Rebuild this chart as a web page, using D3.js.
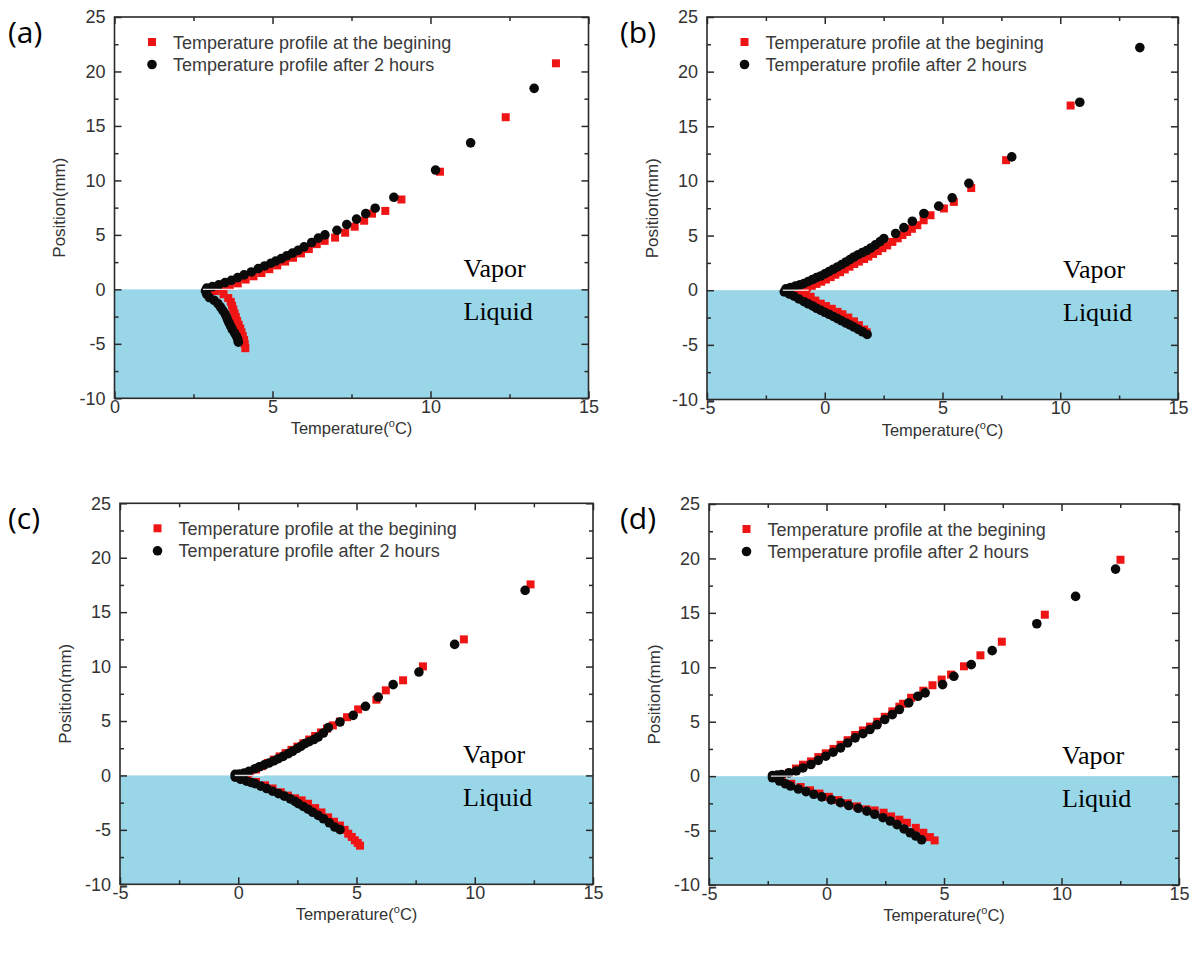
<!DOCTYPE html>
<html>
<head>
<meta charset="utf-8">
<script src="https://cdn.jsdelivr.net/npm/d3@7"></script>
<style>
  body { margin: 0; background: #fff; }
  svg { display: block; }
</style>
</head>
<body>
<svg></svg>
<script>
/* chart values */
var panelLabels = ['(a)', '(b)', '(c)', '(d)'];
var legendLabels = ['Temperature profile at the begining', 'Temperature profile after 2 hours'];
var phaseLabels = ['Vapor', 'Liquid'];
var yTitle = 'Position(mm)';
var xTitleParts = ['Temperature(', 'o', 'C)'];

var xDomains = [[0, 15], [-5, 15], [-5, 15], [-5, 15]];
var yDomain = [-10, 25];
var liquidRange = [-10, 0];
var xTicksA = [0, 5, 10, 15];
var xMinorA = [2.5, 7.5, 12.5];
var xTicks = [-5, 0, 5, 10, 15];
var xMinor = [-2.5, 2.5, 7.5, 12.5];
var yTicks = [-10, -5, 0, 5, 10, 15, 20, 25];
var yMinor = [-7.5, -2.5, 2.5, 7.5, 12.5, 17.5, 22.5];

// (a)
var beginA = [
  [3.15, 0.0], [3.4, 0.12], [3.65, 0.3], [3.9, 0.55], [4.15, 0.9], [4.4, 1.2], [4.65, 1.5],
  [4.9, 1.85], [5.15, 2.2], [5.4, 2.55], [5.65, 2.9], [5.9, 3.3], [6.15, 3.7], [6.4, 4.15],
  [6.65, 4.45], [6.98, 4.75], [7.3, 5.2], [7.6, 5.75], [7.9, 6.3], [8.15, 6.95], [8.57, 7.2],
  [9.08, 8.25], [10.3, 10.8], [12.38, 15.8], [13.97, 20.75],
  [3.2, -0.15], [3.45, -0.45], [3.6, -0.8], [3.68, -1.15], [3.72, -1.5], [3.76, -1.85], [3.8, -2.2],
  [3.84, -2.55], [3.88, -2.9], [3.93, -3.25], [3.98, -3.6], [4.02, -3.95], [4.06, -4.3], [4.1, -4.65],
  [4.12, -5.0], [4.14, -5.4]
];
var afterA = [
  [2.92, 0.12], [3.1, 0.25], [3.3, 0.42], [3.5, 0.62], [3.7, 0.83], [3.9, 1.08], [4.1, 1.33],
  [4.33, 1.6], [4.55, 1.9], [4.75, 2.15], [4.95, 2.4], [5.1, 2.6], [5.28, 2.82], [5.45, 3.08],
  [5.63, 3.33], [5.81, 3.58], [6.0, 3.9], [6.24, 4.3], [6.45, 4.7], [6.66, 5.0], [7.04, 5.42],
  [7.35, 5.95], [7.66, 6.45], [7.95, 6.95], [8.25, 7.45], [8.84, 8.45], [10.16, 10.95],
  [11.27, 13.45], [13.28, 18.45],
  [2.88, -0.15], [2.92, -0.45], [3.0, -0.75], [3.15, -1.0], [3.27, -1.3], [3.35, -1.6], [3.42, -1.9],
  [3.49, -2.2], [3.54, -2.5], [3.58, -2.8], [3.63, -3.1], [3.68, -3.4], [3.73, -3.7], [3.8, -4.0],
  [3.86, -4.3], [3.9, -4.6], [3.92, -4.85]
];
var seamA = [2.8, 3.9];

// (b)
var beginB = [
  [-1.35, 0.02], [-1.15, 0.08], [-0.95, 0.15], [-0.75, 0.25], [-0.55, 0.4], [-0.35, 0.58],
  [-0.15, 0.78], [0.05, 0.98], [0.25, 1.2], [0.45, 1.42], [0.65, 1.65], [0.85, 1.9], [1.05, 2.15],
  [1.25, 2.4], [1.45, 2.62], [1.67, 2.85], [1.85, 3.08], [2.05, 3.32], [2.25, 3.58], [2.45, 3.85],
  [2.65, 4.1], [2.87, 4.42], [3.1, 4.75], [3.3, 5.05], [3.5, 5.33], [3.7, 5.62], [3.93, 5.95],
  [4.2, 6.4], [4.49, 6.86], [5.06, 7.48], [5.48, 8.08], [6.22, 9.35], [7.7, 11.9], [10.44, 16.9],
  [-1.0, -0.2], [-0.8, -0.4], [-0.6, -0.6], [-0.4, -0.95], [-0.17, -1.23], [0.05, -1.45], [0.3, -1.7],
  [0.54, -1.98], [0.75, -2.2], [1.0, -2.5], [1.24, -2.85], [1.45, -3.2], [1.67, -3.6], [1.78, -3.85]
];
var afterB = [
  [-1.65, 0.12], [-1.45, 0.25], [-1.25, 0.38], [-1.05, 0.5], [-0.88, 0.62], [-0.7, 0.8],
  [-0.52, 0.98], [-0.35, 1.15], [-0.17, 1.3], [0.0, 1.5], [0.18, 1.7], [0.36, 1.92], [0.54, 2.13],
  [0.72, 2.35], [0.9, 2.58], [1.07, 2.8], [1.24, 3.04], [1.42, 3.25], [1.6, 3.45], [1.78, 3.63],
  [1.95, 3.85], [2.15, 4.15], [2.35, 4.45], [2.51, 4.73], [3.01, 5.19], [3.36, 5.73], [3.72, 6.31],
  [4.21, 7.02], [4.84, 7.69], [5.41, 8.45], [6.12, 9.78], [7.94, 12.2], [10.83, 17.2], [13.38, 22.2],
  [-1.72, -0.15], [-1.5, -0.35], [-1.3, -0.55], [-1.1, -0.8], [-0.88, -1.05], [-0.7, -1.25],
  [-0.5, -1.45], [-0.35, -1.65], [-0.17, -1.84], [0.0, -2.02], [0.18, -2.2], [0.36, -2.4],
  [0.54, -2.6], [0.72, -2.8], [0.9, -3.0], [1.07, -3.18], [1.24, -3.37], [1.42, -3.58],
  [1.6, -3.8], [1.8, -4.05]
];
var seamB = [-1.78, -0.68];

// (c)
var beginC = [
  [0.0, 0.02], [0.25, 0.1], [0.5, 0.3], [0.75, 0.55], [1.0, 0.85], [1.25, 1.15], [1.5, 1.45],
  [1.75, 1.75], [2.0, 2.05], [2.25, 2.35], [2.5, 2.65], [2.75, 2.95], [3.0, 3.3], [3.25, 3.62],
  [3.5, 3.95], [3.75, 4.3], [4.0, 4.6], [4.3, 4.95], [4.6, 5.35], [5.07, 6.07], [5.84, 6.96],
  [6.24, 7.82], [6.97, 8.74], [7.81, 10.02], [9.54, 12.5], [12.36, 17.55],
  [0.1, -0.2], [0.4, -0.4], [0.75, -0.6], [1.13, -0.91], [1.45, -1.2], [1.8, -1.55], [2.1, -1.85],
  [2.4, -2.1], [2.68, -2.29], [2.95, -2.6], [3.25, -3.0], [3.52, -3.4], [3.8, -3.85], [4.05, -4.25],
  [4.3, -4.6], [4.5, -5.0], [4.65, -5.35], [4.8, -5.65], [4.93, -5.96], [5.05, -6.2], [5.15, -6.45]
];
var afterC = [
  [-0.13, 0.1], [0.05, 0.12], [0.25, 0.22], [0.45, 0.38], [0.71, 0.62], [0.9, 0.8], [1.1, 0.98],
  [1.3, 1.14], [1.5, 1.33], [1.7, 1.54], [1.9, 1.75], [2.12, 2.0], [2.3, 2.22], [2.5, 2.48],
  [2.65, 2.68], [2.82, 2.92], [3.0, 3.1], [3.2, 3.3], [3.38, 3.53], [3.6, 3.9], [3.81, 4.39],
  [4.3, 4.91], [4.86, 5.52], [5.38, 6.35], [5.92, 7.2], [6.55, 8.34], [7.64, 9.5], [9.15, 12.04],
  [12.13, 17.0],
  [-0.13, -0.15], [0.1, -0.35], [0.35, -0.52], [0.55, -0.65], [0.71, -0.75], [0.95, -0.98],
  [1.2, -1.2], [1.45, -1.45], [1.7, -1.67], [1.95, -1.9], [2.2, -2.15], [2.4, -2.38], [2.54, -2.59],
  [2.75, -2.85], [2.95, -3.1], [3.15, -3.38], [3.38, -3.67], [3.6, -3.98], [3.85, -4.35],
  [4.08, -4.74], [4.3, -4.98]
];
var seamC = [-0.15, 1.1];

// (d)
var beginD = [
  [-1.9, 0.08], [-1.6, 0.3], [-1.3, 0.7], [-1.0, 1.05], [-0.66, 1.35], [-0.35, 1.75], [-0.03, 2.1],
  [0.3, 2.5], [0.6, 2.88], [0.9, 3.3], [1.22, 3.78], [1.55, 4.2], [1.85, 4.55], [2.16, 5.0],
  [2.48, 5.45], [2.8, 5.95], [3.1, 6.38], [3.26, 6.65], [3.6, 7.2], [4.12, 7.85], [4.51, 8.35],
  [4.9, 8.87], [5.3, 9.33], [5.85, 10.09], [6.55, 11.1], [7.46, 12.35], [9.29, 14.83], [12.51, 19.88],
  [-1.9, -0.3], [-1.5, -0.7], [-1.1, -1.0], [-0.7, -1.3], [-0.3, -1.6], [0.1, -1.9], [0.5, -2.2],
  [0.9, -2.5], [1.3, -2.78], [1.7, -3.05], [2.05, -3.15], [2.43, -3.36], [2.75, -3.7], [3.1, -4.0],
  [3.42, -4.28], [3.8, -4.75], [4.12, -5.2], [4.4, -5.6], [4.6, -5.9]
];
var afterD = [
  [-2.3, 0.06], [-2.1, 0.1], [-1.91, 0.15], [-1.6, 0.3], [-1.29, 0.46], [-1.0, 0.75], [-0.66, 1.07],
  [-0.35, 1.45], [-0.03, 1.83], [0.28, 2.2], [0.6, 2.6], [0.9, 3.05], [1.22, 3.52], [1.55, 3.9],
  [1.85, 4.28], [2.15, 4.72], [2.48, 5.2], [2.8, 5.65], [3.1, 6.12], [3.5, 6.73], [3.89, 7.34],
  [4.2, 7.65], [4.94, 8.41], [5.42, 9.17], [6.16, 10.24], [7.05, 11.53], [8.95, 14.0], [10.6, 16.51],
  [12.3, 19.02],
  [-2.3, -0.15], [-2.0, -0.45], [-1.75, -0.7], [-1.53, -0.91], [-1.2, -1.18], [-0.87, -1.42],
  [-0.54, -1.67], [-0.2, -1.9], [0.2, -2.18], [0.59, -2.44], [0.95, -2.7], [1.35, -2.95],
  [1.72, -3.21], [2.05, -3.5], [2.4, -3.82], [2.71, -4.12], [3.0, -4.45], [3.3, -4.85],
  [3.56, -5.2], [3.8, -5.5], [4.05, -5.85]
];
var seamD = [-2.37, -0.97];

/* layout */
var svgWidth = 1196;
var svgHeight = 953;
var redColor = '#f01515';
var liquidColor = '#99d6e8';
var textColor = '#333';
var sansFont = '"Liberation Sans", Arial, sans-serif';

var panels = [
  {label: panelLabels[0], xDomain: xDomains[0], xTicks: xTicksA, xMinor: xMinorA, begin: beginA, after: afterA, seam: seamA,
   box: {left: 114.5, top: 17, right: 588.5, bottom: 398.3}, labelX: 8, labelY: 43, phaseDx: 349},
  {label: panelLabels[1], xDomain: xDomains[1], xTicks: xTicks, xMinor: xMinor, begin: beginB, after: afterB, seam: seamB,
   box: {left: 707, top: 17, right: 1178, bottom: 399.5}, labelX: 620, labelY: 43, phaseDx: 356},
  {label: panelLabels[2], xDomain: xDomains[2], xTicks: xTicks, xMinor: xMinor, begin: beginC, after: afterC, seam: seamC,
   box: {left: 120, top: 503.3, right: 593, bottom: 884.3}, labelX: 8, labelY: 529, phaseDx: 343},
  {label: panelLabels[3], xDomain: xDomains[3], xTicks: xTicks, xMinor: xMinor, begin: beginD, after: afterD, seam: seamD,
   box: {left: 709, top: 504, right: 1179, bottom: 885}, labelX: 620, labelY: 529, phaseDx: 353}
];

var svg = d3.select('svg')
    .attr('width', svgWidth)
    .attr('height', svgHeight)
    .style('background', '#fff');

panels.forEach(drawPanel);

function drawPanel(p){
  var b = p.box;
  var x = d3.scaleLinear().domain(p.xDomain).range([b.left, b.right]);
  var y = d3.scaleLinear().domain(yDomain).range([b.bottom, b.top]);
  var g = svg.append('g');
  var plain = function(d){ return String(d); };  // hyphen minus, as in the figure

  // liquid region
  g.append('rect')
      .attr('x', b.left)
      .attr('y', y(liquidRange[1]))
      .attr('width', b.right - b.left)
      .attr('height', y(liquidRange[0]) - y(liquidRange[1]))
      .attr('fill', liquidColor);

  // beginning profile (red squares)
  g.selectAll('rect.begin')
      .data(p.begin)
      .enter()
      .append('rect')
      .attr('class', 'begin')
      .attr('x', function(d){ return x(d[0]) - 4; })
      .attr('y', function(d){ return y(d[1]) - 4; })
      .attr('width', 8)
      .attr('height', 8)
      .attr('fill', redColor);

  // after 2 hours (black circles)
  g.selectAll('circle.after')
      .data(p.after)
      .enter()
      .append('circle')
      .attr('class', 'after')
      .attr('cx', function(d){ return x(d[0]); })
      .attr('cy', function(d){ return y(d[1]); })
      .attr('r', 4.8)
      .attr('fill', '#0a0a0a');

  // thin light seam at the interface
  g.append('line')
      .attr('x1', x(p.seam[0])).attr('x2', x(p.seam[1]))
      .attr('y1', y(0)).attr('y2', y(0))
      .attr('stroke', '#fff')
      .attr('stroke-opacity', 0.85)
      .attr('stroke-width', 1.4);

  // axes: major + minor ticks on all four sides, pointing inward
  addAxis(g, d3.axisBottom(x).tickValues(p.xTicks).tickSize(-7).tickPadding(2).tickFormat(plain), translate(0, b.bottom), true);
  addAxis(g, d3.axisBottom(x).tickValues(p.xMinor).tickSize(-4).tickFormat(''), translate(0, b.bottom), false);
  addAxis(g, d3.axisTop(x).tickValues(p.xTicks).tickSize(-7).tickFormat(''), translate(0, b.top), false);
  addAxis(g, d3.axisTop(x).tickValues(p.xMinor).tickSize(-4).tickFormat(''), translate(0, b.top), false);
  addAxis(g, d3.axisLeft(y).tickValues(yTicks).tickSize(-7).tickPadding(9).tickFormat(plain), translate(b.left, 0), true);
  addAxis(g, d3.axisLeft(y).tickValues(yMinor).tickSize(-4).tickFormat(''), translate(b.left, 0), false);
  addAxis(g, d3.axisRight(y).tickValues(yTicks).tickSize(-7).tickFormat(''), translate(b.right, 0), false);
  addAxis(g, d3.axisRight(y).tickValues(yMinor).tickSize(-4).tickFormat(''), translate(b.right, 0), false);

  // frame
  g.append('rect')
      .attr('x', b.left).attr('y', b.top)
      .attr('width', b.right - b.left).attr('height', b.bottom - b.top)
      .attr('fill', 'none')
      .attr('stroke', '#2a2a2a')
      .attr('stroke-width', 1.6);

  // axis titles
  var xt = g.append('text')
      .attr('x', (b.left + b.right) / 2)
      .attr('y', b.bottom + 36)
      .attr('text-anchor', 'middle')
      .attr('font-family', sansFont)
      .attr('font-size', 16.5)
      .attr('fill', textColor);
  xt.append('tspan').text(xTitleParts[0]);
  xt.append('tspan').attr('dy', -7).attr('font-size', 11).text(xTitleParts[1]);
  xt.append('tspan').attr('dy', 7).text(xTitleParts[2]);

  g.append('text')
      .attr('transform', translate(b.left - 55, (b.top + b.bottom) / 2) + ' rotate(-90)')
      .attr('dy', '0.35em')
      .attr('text-anchor', 'middle')
      .attr('font-family', sansFont)
      .attr('font-size', 17)
      .attr('fill', textColor)
      .text(yTitle);

  // legend
  var lx = b.left + 37.5;
  var ly = b.top + 25;
  g.append('rect')
      .attr('x', lx - 4).attr('y', ly - 4)
      .attr('width', 8).attr('height', 8)
      .attr('fill', redColor);
  g.append('circle')
      .attr('cx', lx).attr('cy', ly + 22.5)
      .attr('r', 4.8)
      .attr('fill', '#0a0a0a');
  legendLabels.forEach(function(t, i){
    g.append('text')
        .attr('x', lx + 21)
        .attr('y', ly + 6.5 + i * 22.5)
        .attr('font-family', sansFont)
        .attr('font-size', 18)
        .attr('fill', '#3a3a3a')
        .text(t);
  });

  // phase labels
  phaseLabels.forEach(function(t, i){
    g.append('text')
        .attr('x', b.left + p.phaseDx)
        .attr('y', y(0) + (i === 0 ? -12 : 31))
        .attr('font-family', '"Liberation Serif", "Times New Roman", serif')
        .attr('font-size', 26)
        .attr('fill', '#000')
        .text(t);
  });

  // panel label
  svg.append('text')
      .attr('x', p.labelX)
      .attr('y', p.labelY)
      .attr('font-family', '"Open Sans", "Liberation Sans", sans-serif')
      .attr('font-size', 30)
      .attr('fill', '#000')
      .text(p.label);
}

function addAxis(g, axis, transform, withLabels){
  var a = g.append('g')
      .attr('transform', transform)
      .call(axis.tickSizeOuter(0));
  a.select('.domain').remove();
  a.selectAll('.tick line')
      .attr('stroke', '#2a2a2a')
      .attr('stroke-width', 1.5);
  if(withLabels){
    a.selectAll('.tick text')
        .attr('font-family', sansFont)
        .attr('font-size', 18)
        .attr('fill', textColor);
  }
}

function translate(x, y) {
  return 'translate(' + x + ',' + y + ')';
}
</script>
</body>
</html>
